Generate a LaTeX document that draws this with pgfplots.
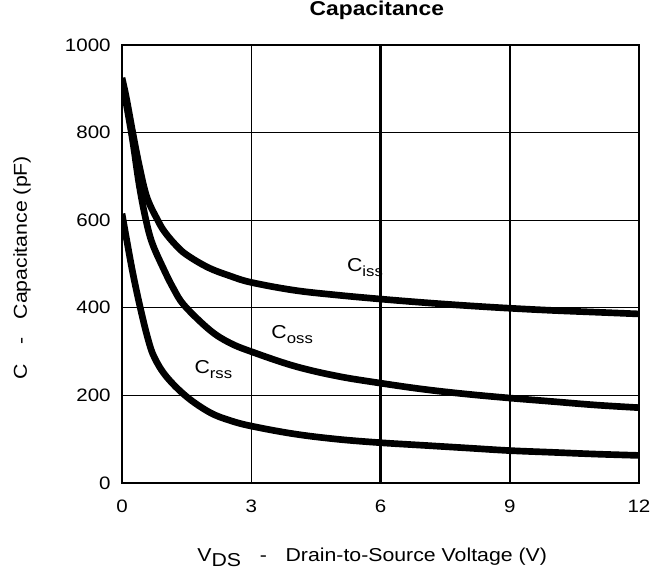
\documentclass[border=0pt]{standalone}
\usepackage{fontspec}
\setmainfont{Liberation Sans}[FakeStretch=1.14]
\usepackage{pgfplots}
\pgfplotsset{compat=1.18}
\begin{document}
\begin{tikzpicture}[x=1pt,y=1pt]
\begin{axis}[
  at={(0,0)}, anchor=origin,
  scale only axis,
  width=387.75pt, height=328.5pt,
  xmin=0, xmax=12, ymin=0, ymax=1000,
  xtick={0,3,6,9,12}, ytick={0,200,400,600,800,1000},
  major tick length=0pt,
  grid=major,
  major grid style={black, line width=1pt},
  extra x ticks={6,9}, extra x tick labels={},
  extra x tick style={grid=major, major grid style={black, line width=1.7pt}},
  axis line style={black, line width=1.6pt},
  /pgf/number format/assume math mode=true,
  /pgf/number format/1000 sep={},
  ticklabel style={font=\fontsize{13.5}{15}\selectfont},
  xticklabel style={yshift=-9pt},
  yticklabel style={xshift=-5pt},
  title={\textbf{Capacitance}},
  title style={at={(axis description cs:0.493,1.0616)}, anchor=center, font=\fontsize{15}{17}\selectfont},
  xlabel={V\raisebox{-0.45ex}{DS}\quad-\quad Drain-to-Source Voltage (V)},
  xlabel style={at={(axis description cs:0.484,-0.180)}, anchor=base, font=\fontsize{14}{16}\selectfont},
  ylabel={C\quad-\quad Capacitance (pF)},
  ylabel style={at={(axis description cs:-0.1838,0.492)}, anchor=base, font=\fontsize{14}{16}\selectfont},
]
\addplot[black, line width=5pt, smooth, tension=0.6] coordinates {
(0,925) (0.1,880) (0.25,800) (0.4,725) (0.58,652) (0.84,598) (1.0,572) (1.25,543) (1.5,521) (2,492) (2.5,473) (3,458) (4,440) (5,429) (6,420) (7,412) (8,405) (9,399) (10,394) (11,390) (12,386)
};
\addplot[black, line width=5pt, smooth, tension=0.6] coordinates {
(0,915) (0.1,865) (0.25,780) (0.4,680) (0.55,603) (0.7,548) (0.96,490) (1.2,443) (1.45,405) (2.04,349) (2.5,320) (3,300) (4,267) (5,244) (6,228) (7,214) (8,203) (9,194) (10,186) (11,178) (12,172)
};
\addplot[black, line width=5pt, smooth, tension=0.6] coordinates {
(0,615) (0.1,560) (0.25,480) (0.42,402) (0.6,330) (0.75,287) (1.03,243) (1.5,197) (2.04,161) (2.5,143) (3,130) (4,112) (5,100) (6,92) (7,86) (8,80) (9,74) (10,70) (11,66) (12,63)
};
\node[font=\fontsize{14}{16}\selectfont] at (axis cs:5.64,491) {C\raisebox{-0.5ex}{\fontsize{11}{12}\selectfont iss}};
\node[font=\fontsize{14}{16}\selectfont] at (axis cs:3.95,338) {C\raisebox{-0.5ex}{\fontsize{11}{12}\selectfont oss}};
\node[font=\fontsize{14}{16}\selectfont] at (axis cs:2.12,260) {C\raisebox{-0.5ex}{\fontsize{11}{12}\selectfont rss}};
\end{axis}
\pgfresetboundingbox
\path (-91.5,-64.5) rectangle (407.25,362.25);
\end{tikzpicture}
\end{document}
